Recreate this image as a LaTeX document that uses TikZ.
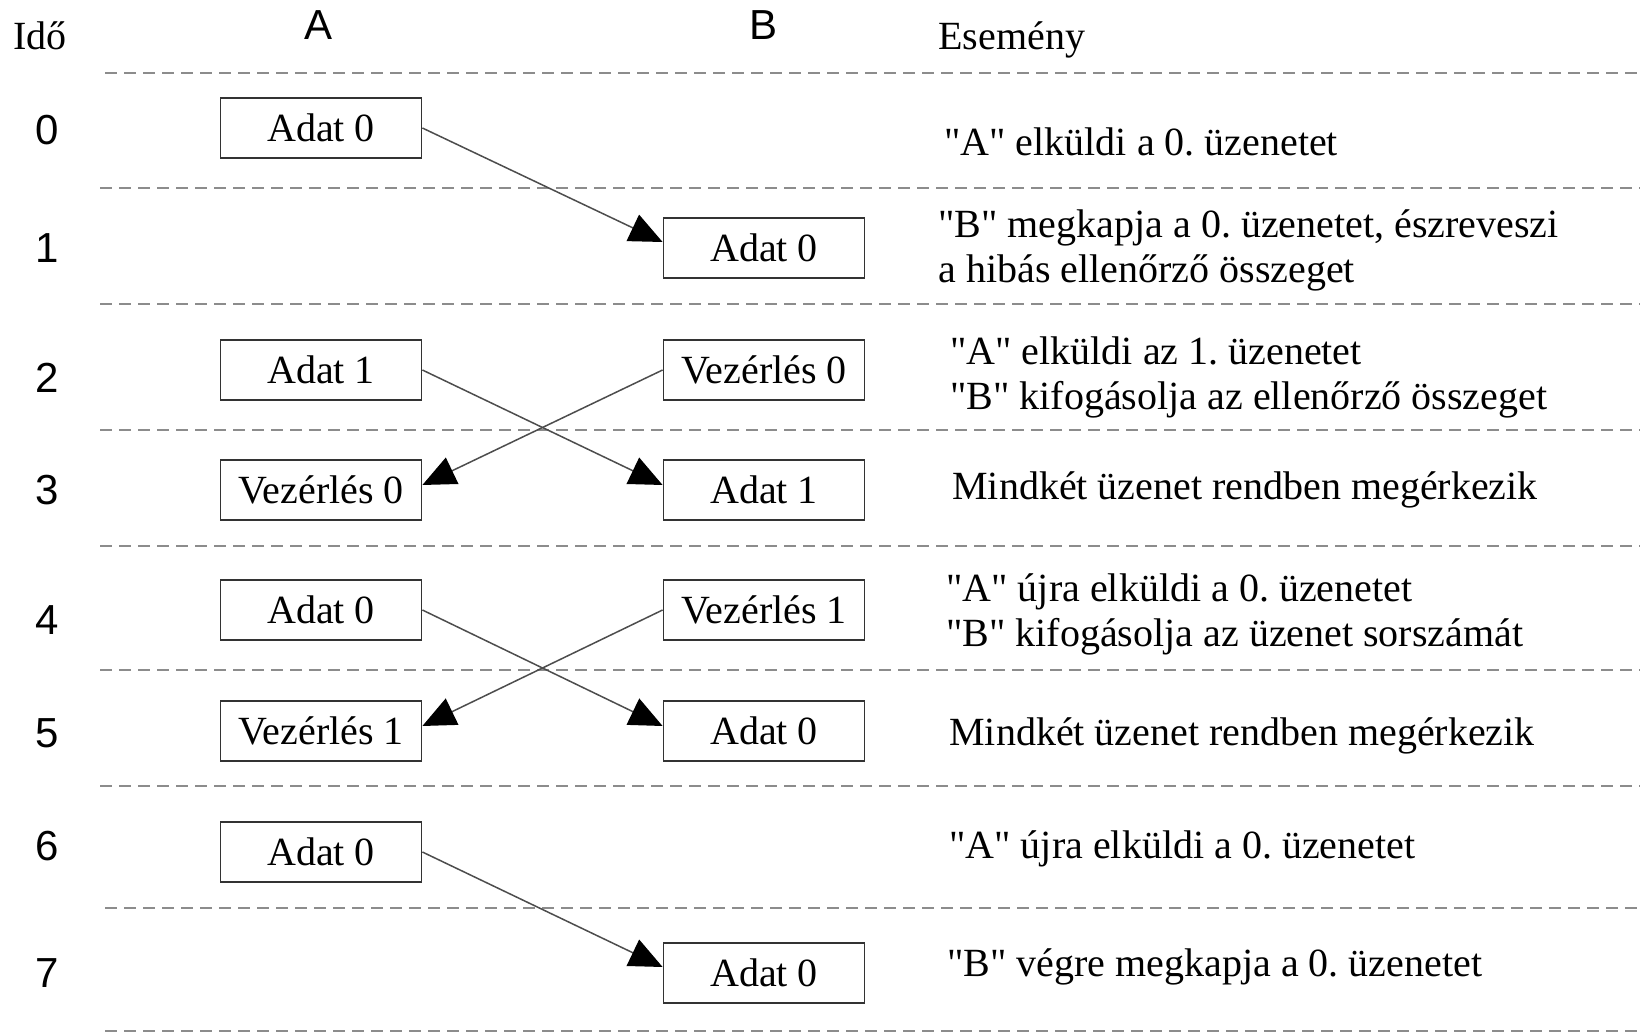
\documentclass[tikz,border=0pt]{standalone}
\usepackage{fontspec}
\setmainfont{Liberation Serif}[Ligatures=TeXOff]
\setsansfont{Liberation Sans}
\usetikzlibrary{arrows.meta}
\frenchspacing
\definecolor{boxline}{HTML}{333333}
\definecolor{msgline}{HTML}{4D4D4D}
\definecolor{sepline}{HTML}{8C8C8C}
\newcommand\serifsz{\fontsize{20}{22.5}\selectfont}
\newcommand\sanssz{\sffamily\fontsize{21}{24}\selectfont}
\begin{document}
\begin{tikzpicture}[x=0.5pt,y=-0.5pt,
  box/.style={draw=boxline, line width=0.9pt, fill=white, minimum width=100.5pt,
    minimum height=30pt, inner sep=0pt, font=\serifsz},
  msg/.style={draw=msgline, line width=0.75pt,
    -{Triangle[length=16.5pt,width=14.5pt,color=black]}},
  sep/.style={draw=sepline, line width=1pt, dash pattern=on 6pt off 3.5pt},
  event/.style={anchor=base west, inner sep=0pt, align=left, font=\serifsz},
  tick/.style={anchor=base, inner sep=0pt, font=\sanssz}]

% canvas
\fill[white] (0,0) rectangle (1640,1032);
\useasboundingbox (0,0) rectangle (1640,1032);

% column headers
\node[anchor=base, inner sep=0pt, font=\serifsz] (hTime) at (40,50) {Idő};
\node[tick] (hA) at (319,40) {A};
\node[tick] (hB) at (764,40) {B};
\node[anchor=base west, inner sep=0pt, font=\serifsz] (hEv) at (938,50) {Esemény};

% time slot separators
\foreach \y/\x in {73/105,188/100,304/100,430/100,546/100,670/100,786/100,908/105,1031/105}
  \draw[sep] (\x,\y) -- (1640,\y);

% time stamps
\foreach \t/\y in {0/145,1/263,2/393,3/504,4/634,5/747,6/860,7/987}
  \node[tick] (t\t) at (47,\y) {\t};

% frames of station A (x=321) and station B (x=764)
\node[box] (a0) at (321,128) {Adat 0};
\node[box] (b1) at (764,248) {Adat 0};
\node[box] (a2) at (321,370) {Adat 1};
\node[box] (b2) at (764,370) {Vezérlés 0};
\node[box] (a3) at (321,490) {Vezérlés 0};
\node[box] (b3) at (764,490) {Adat 1};
\node[box] (a4) at (321,610) {Adat 0};
\node[box] (b4) at (764,610) {Vezérlés 1};
\node[box] (a5) at (321,731) {Vezérlés 1};
\node[box] (b5) at (764,731) {Adat 0};
\node[box] (a6) at (321,852) {Adat 0};
\node[box] (b7) at (764,973) {Adat 0};

% transmissions
\draw[msg] (a0.east) -- ([yshift=3pt]b1.west);
\draw[msg] (a2.east) -- ([yshift=2.5pt]b3.west);
\draw[msg] (b2.west) -- ([yshift=2.5pt]a3.east);
\draw[msg] (a4.east) -- ([yshift=2.5pt]b5.west);
\draw[msg] (b4.west) -- ([yshift=2.5pt]a5.east);
\draw[msg] (a6.east) -- ([yshift=3pt]b7.west);

% event descriptions (multi-line nodes sit on the baseline of their last line)
\node[event] (e0) at (944,156) {"A" elküldi a 0. üzenetet};
\node[event] (e1) at (938,283) {"B" megkapja a 0. üzenetet, észreveszi\\a hibás ellenőrző összeget};
\node[event] (e2) at (950,409) {"A" elküldi az 1. üzenetet\\"B" kifogásolja az ellenőrző összeget};
\node[event] (e3) at (952,500) {Mindkét üzenet rendben megérkezik};
\node[event] (e4) at (946,646) {"A" újra elküldi a 0. üzenetet\\"B" kifogásolja az üzenet sorszámát};
\node[event] (e5) at (949,745) {Mindkét üzenet rendben megérkezik};
\node[event] (e6) at (949,858) {"A" újra elküldi a 0. üzenetet};
\node[event] (e7) at (947,976) {"B" végre megkapja a 0. üzenetet};
\end{tikzpicture}
\end{document}
